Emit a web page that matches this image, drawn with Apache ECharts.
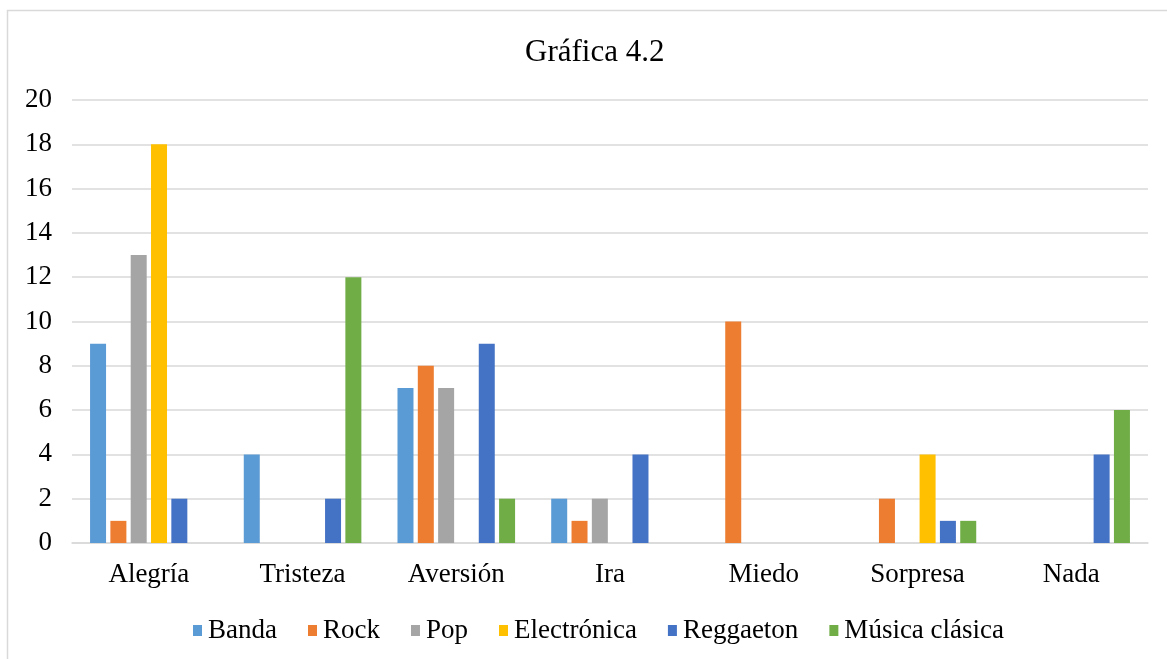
<!DOCTYPE html>
<html>
<head>
<meta charset="utf-8">
<script src="https://cdn.jsdelivr.net/npm/echarts@6/dist/echarts.min.js"></script>
<style>html,body{margin:0;padding:0;background:#fff}#c{width:1167px;height:659px}</style>
</head>
<body>
<div id="c"></div>
<script>
const categories = ['Alegría','Tristeza','Aversión','Ira','Miedo','Sorpresa','Nada'];
const seriesNames = ['Banda','Rock','Pop','Electrónica','Reggaeton','Música clásica'];
const banda = [9,4,7,2,0,0,0];
const rock = [1,0,8,1,10,2,0];
const pop = [13,0,7,2,0,0,0];
const electronica = [18,0,0,0,0,4,0];
const reggaeton = [2,2,9,4,0,1,4];
const clasica = [0,12,2,0,0,1,6];
const yTicks = {min:0, max:20, interval:2};
const colors = ['#5B9BD5','#ED7D31','#A5A5A5','#FFC000','#4472C4','#70AD47'];
const values = [banda, rock, pop, electronica, reggaeton, clasica];

const font = '"Liberation Serif","Times New Roman",serif';
const chart = echarts.init(document.getElementById('c'));
chart.setOption({
  animation:false,
  color: colors,
  graphic:[{type:'rect', shape:{x:7.5,y:10.5,width:1170,height:660}, style:{fill:'none',stroke:'#d9d9d9',lineWidth:1.5}, silent:true}],
  title:{text:'Gráfica 4.2', left:520, top:32, textStyle:{fontFamily:font, fontSize:31, fontWeight:'normal', color:'#000'}},
  legend:{top:612, left:188, itemWidth:9, itemHeight:11, itemGap:31, icon:'rect',
    textStyle:{fontFamily:font, fontSize:27, color:'#000', padding:[0,0,0,1]}, data:seriesNames},
  grid:{left:72, right:19, top:100, bottom:116, containLabel:false},
  xAxis:{type:'category', data:categories,
    axisLine:{lineStyle:{color:'#d9d9d9', width:1.5}}, axisTick:{show:false},
    axisLabel:{fontFamily:font, fontSize:27, color:'#000', margin:18}},
  yAxis:{type:'value', min:yTicks.min, max:yTicks.max, interval:yTicks.interval,
    axisLine:{show:false}, axisTick:{show:false},
    splitLine:{lineStyle:{color:'#d9d9d9', width:1.5}},
    axisLabel:{fontFamily:font, fontSize:27, color:'#000', margin:20}},
  series: seriesNames.map((n,i)=>({name:n, type:'bar', data:values[i], barWidth:16, barGap:'27%'}))
});
</script>
</body>
</html>
